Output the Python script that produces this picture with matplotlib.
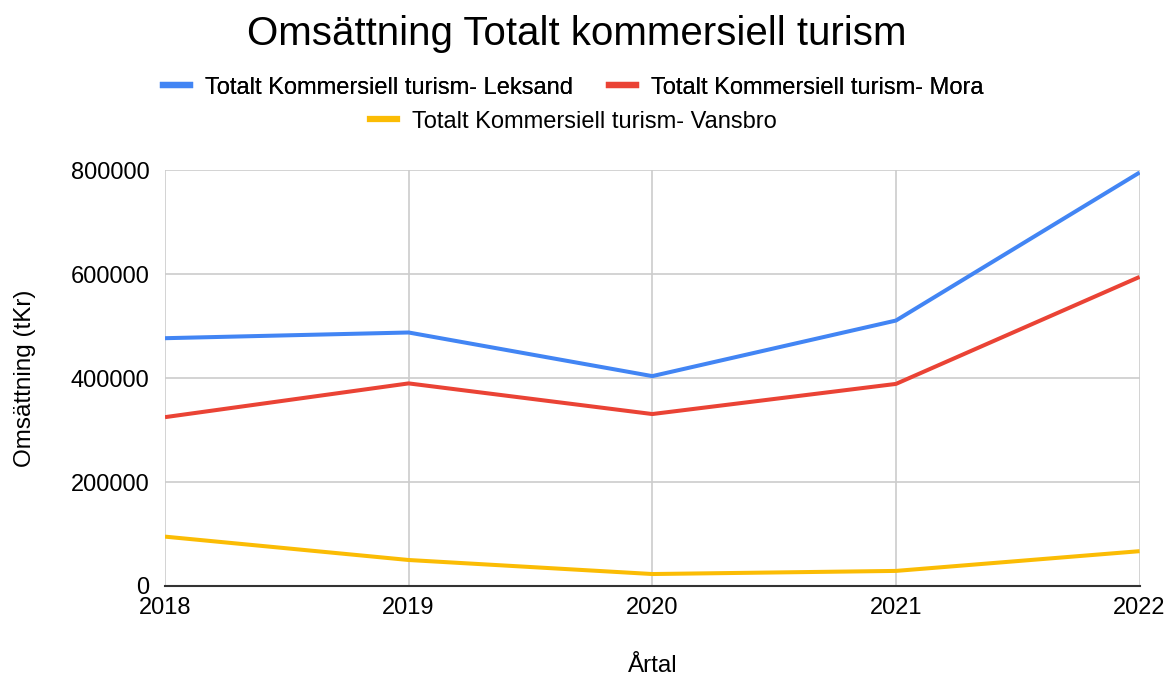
import matplotlib.pyplot as plt
from matplotlib.lines import Line2D

plt.rcParams['font.family'] = ['Liberation Sans', 'DejaVu Sans']

years = [2018, 2019, 2020, 2021, 2022]
leksand = [477000, 488000, 404000, 511000, 796000]
mora = [325000, 390000, 331000, 389000, 595000]
vansbro = [95000, 50000, 23000, 29000, 67000]

series_names = ["Totalt Kommersiell turism- Leksand",
                "Totalt Kommersiell turism- Mora",
                "Totalt Kommersiell turism- Vansbro"]
colors = ["#4285f4", "#ea4335", "#fbbc04"]

fig = plt.figure(figsize=(11.7, 6.79), dpi=100)
ax = fig.add_axes([0.141, 0.137, 0.833, 0.612])

for vals, c, name in zip([leksand, mora, vansbro], colors, series_names):
    ax.plot(years, vals, color=c, lw=2.9, label=name, solid_capstyle='butt', zorder=3)

ax.set_xlim(2018, 2022)
ax.set_ylim(0, 800000)
ax.set_xticks(years)
ax.set_yticks([0, 200000, 400000, 600000, 800000])
ax.set_yticklabels(["0", "200000", "400000", "600000", "800000"])
ax.grid(True, color="#cccccc", lw=1.2)
for s in ["top", "right", "left"]:
    ax.spines[s].set_visible(False)
ax.spines["bottom"].set_color("#333333")
ax.spines["bottom"].set_linewidth(1.5)
ax.spines["bottom"].set_zorder(4)
ax.tick_params(length=0, labelsize=17)
ax.tick_params(axis='x', pad=8)
ax.tick_params(axis='y', pad=11)

ax.set_xlabel("Årtal", fontsize=17.5, labelpad=26)
ax.set_ylabel("Omsättning (tKr)", fontsize=17.5, labelpad=25)

fig.suptitle("Omsättning Totalt kommersiell turism", fontsize=29, x=0.493, y=0.978)

handles = [Line2D([], [], color=c, lw=4.5) for c in colors]
leg1 = fig.legend(handles[:2], series_names[:2], loc="center", ncol=2,
                  bbox_to_anchor=(0.49, 0.871), frameon=False, fontsize=17,
                  handlelength=1.15, columnspacing=1.5, handletextpad=0.65)
leg2 = fig.legend(handles[2:], series_names[2:], loc="center",
                  bbox_to_anchor=(0.49, 0.821), frameon=False, fontsize=17,
                  handlelength=1.15, handletextpad=0.65)
fig.add_artist(leg1)

fig.savefig("out.png", dpi=100)
